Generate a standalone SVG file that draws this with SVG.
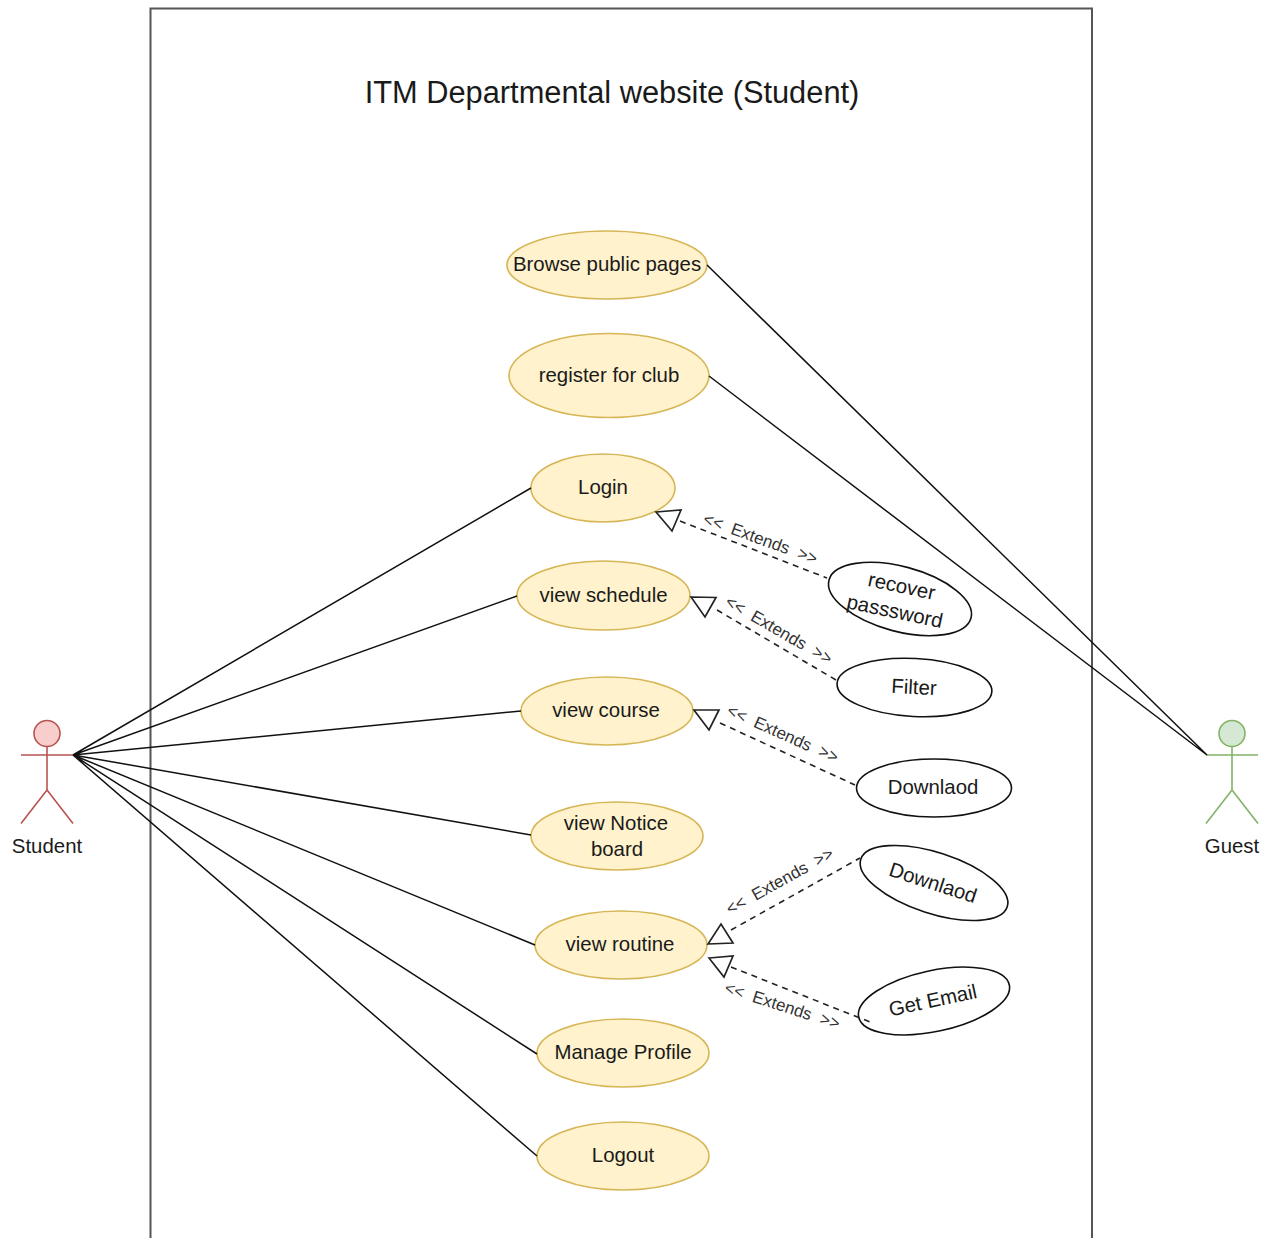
<svg xmlns="http://www.w3.org/2000/svg" width="1271" height="1238" viewBox="0 0 1271 1238">
<style>
text{font-family:"Liberation Sans",Arial,sans-serif;fill:#1a1a1a;text-anchor:middle}
.t{font-size:20.4px}
.e{font-size:17px;fill:#333}
.uc{fill:#fff2cc;stroke:#d6b656;stroke-width:1.6}
.ext{fill:#fff;stroke:#111;stroke-width:1.6}
.c{stroke:#111;stroke-width:1.5;fill:none}
.d{stroke:#222;stroke-width:1.6;fill:none;stroke-dasharray:6 5}
.tri{stroke:#222;stroke-width:1.7;fill:#fff;stroke-linejoin:miter}
.sr{stroke:#b85450;stroke-width:1.6;fill:none}
.sg{stroke:#82b366;stroke-width:1.6;fill:none}
</style>
<rect width="1271" height="1238" fill="#fff"/>
<g id="system-boundary"><path d="M150.500 1238V8.500H1092V1238" fill="none" stroke="#555" stroke-width="2"/>
<text x="612" y="103" font-size="30.800">ITM Departmental website (Student)</text></g>
<g id="student"><circle cx="47" cy="733.500" r="13" fill="#f8cecc" stroke="#b85450" stroke-width="1.6"/><path class="sr" d="M47 746.500V790M21 755H73M47 790L21 823.500M47 790L73 823.500"/><text class="t" x="47" y="853">Student</text></g>
<g id="guest"><circle cx="1232" cy="733.500" r="13" fill="#d5e8d4" stroke="#82b366" stroke-width="1.6"/><path class="sg" d="M1232 746.500V790M1206 755H1258M1232 790L1206 823.500M1232 790L1258 823.500"/><text class="t" x="1232" y="853">Guest</text></g>
<g id="browse"><ellipse class="uc" cx="607" cy="265" rx="100" ry="34"/><text class="t" x="607" y="271">Browse public pages</text></g>
<g id="register"><ellipse class="uc" cx="609" cy="375.500" rx="100" ry="42"/><text class="t" x="609" y="382">register for club</text></g>
<g id="login"><ellipse class="uc" cx="603" cy="488" rx="72" ry="34"/><text class="t" x="603" y="493.500">Login</text></g>
<g id="schedule"><ellipse class="uc" cx="603.500" cy="595.500" rx="86.500" ry="34.500"/><text class="t" x="603.500" y="601.500">view schedule</text></g>
<g id="course"><ellipse class="uc" cx="607" cy="711" rx="86" ry="34"/><text class="t" x="606" y="716.500">view course</text></g>
<g id="notice"><ellipse class="uc" cx="617" cy="836" rx="86" ry="34"/><text class="t" x="616" y="829.500">view Notice</text><text class="t" x="617" y="855.500">board</text></g>
<g id="routine"><ellipse class="uc" cx="621" cy="945" rx="86" ry="34"/><text class="t" x="620" y="951">view routine</text></g>
<g id="manage"><ellipse class="uc" cx="623" cy="1053" rx="86" ry="34"/><text class="t" x="623" y="1059">Manage Profile</text></g>
<g id="logout"><ellipse class="uc" cx="623" cy="1156" rx="86" ry="34"/><text class="t" x="623" y="1162">Logout</text></g>
<g id="recover"><ellipse class="ext" transform="rotate(15 900 599)" cx="900" cy="599" rx="73.500" ry="32.500"/><g transform="rotate(12 900 599)"><text class="t" x="899" y="593">recover</text><text class="t" x="897.500" y="619">passsword</text></g></g>
<g id="filter"><ellipse class="ext" transform="rotate(3 914 687)" cx="914.500" cy="687.500" rx="77.500" ry="29"/><text class="t" transform="rotate(3 914 687)" x="914" y="694">Filter</text></g>
<g id="download1"><ellipse class="ext" cx="934" cy="788" rx="77.500" ry="29"/><text class="t" x="933" y="793.500">Downlaod</text></g>
<g id="download2"><ellipse class="ext" transform="rotate(18 934 883)" cx="934" cy="883" rx="77" ry="30.500"/><text class="t" transform="rotate(18 934 883)" x="933" y="890">Downlaod</text></g>
<g id="email"><ellipse class="ext" transform="rotate(-12 934 1001)" cx="934" cy="1001" rx="77" ry="30.500"/><text class="t" transform="rotate(-12 934 1001)" x="933" y="1007">Get Email</text></g>
<g id="connectors">
<path class="c" d="M73 755L531 488M73 755L517 596M73 755L521 711M73 755L531 835M73 755L535 945M73 755L537 1054M73 755L537 1156M1207 755L707 265M1207 755L709 376"/>
<path class="d" d="M680 521L827 578M717 610L836 680M720 723L855 785M731 930L860 858M731 967L870 1022"/>
<path class="tri" d="M656 512L681 510L672 531ZM691 597L716 597.500L705 617ZM694 710L719 710L709 730ZM708 944L733 943L721 924ZM709 958L733 956L724 977Z"/>
<text class="e" transform="translate(758.500 544) rotate(20)">&lt;&lt;&#160; Extends&#160; &gt;&gt;</text>
<text class="e" transform="translate(776 635) rotate(30)">&lt;&lt;&#160; Extends&#160; &gt;&gt;</text>
<text class="e" transform="translate(780.500 739) rotate(24)">&lt;&lt;&#160; Extends&#160; &gt;&gt;</text>
<text class="e" transform="translate(782.500 886) rotate(-29)">&lt;&lt;&#160; Extends&#160; &gt;&gt;</text>
<text class="e" transform="translate(780.500 1011) rotate(18)">&lt;&lt;&#160; Extends&#160; &gt;&gt;</text>
</g>
</svg>
